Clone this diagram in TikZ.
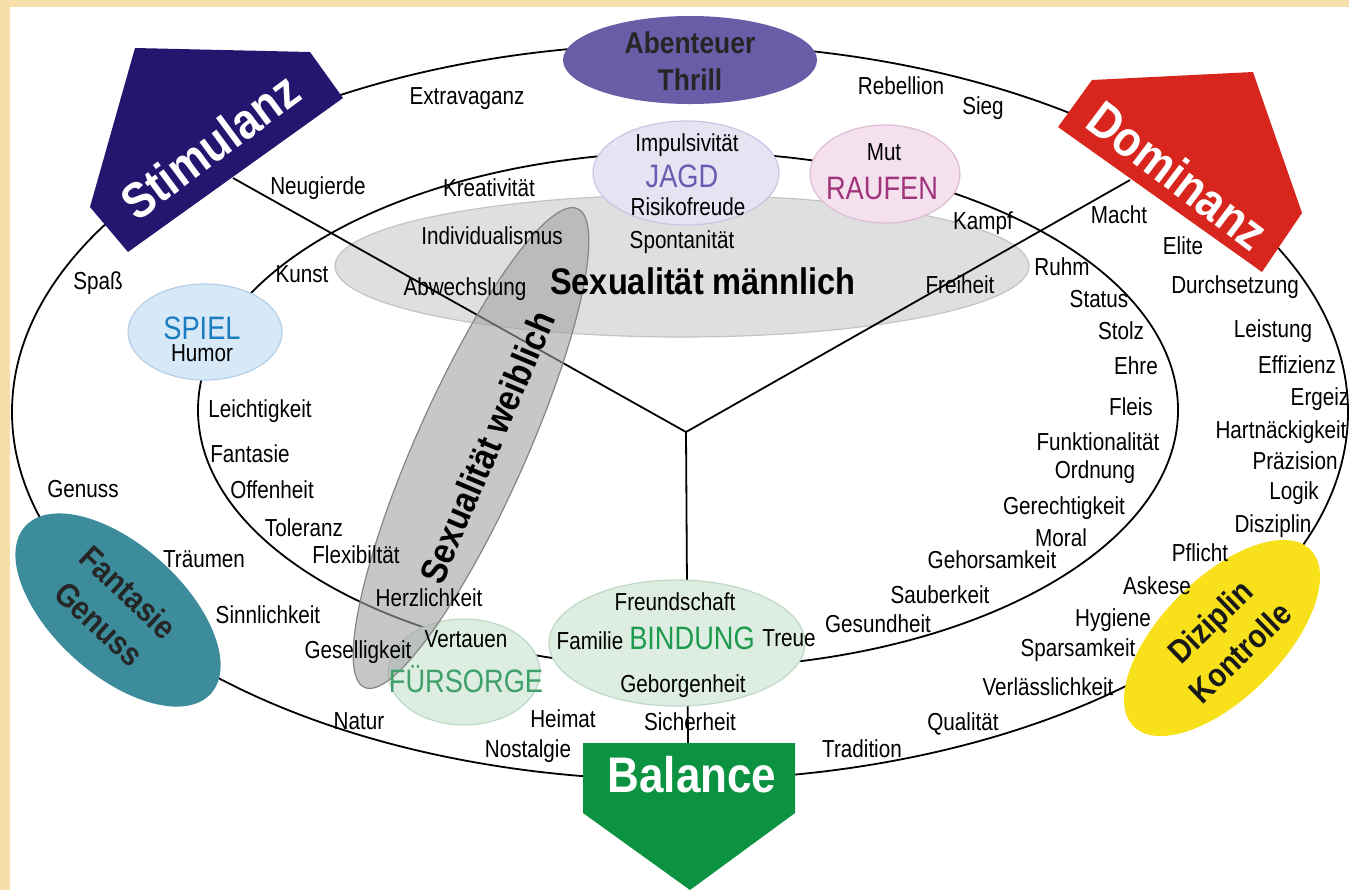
\documentclass[tikz,border=0pt]{standalone}
\usepackage{fontspec}
\setmainfont{Liberation Sans}[FakeStretch=0.84, BoldFeatures={FakeStretch=0.88}]
\usetikzlibrary{shapes.geometric}
\definecolor{beige}{HTML}{F6DFA8}
\definecolor{stimblue}{HTML}{24166E}
\definecolor{domred}{HTML}{D8261E}
\definecolor{balgreen}{HTML}{0B9342}
\definecolor{thrill}{HTML}{685EA8}
\definecolor{tealbg}{HTML}{3C8C9B}
\definecolor{yell}{HTML}{F8E11B}
\definecolor{jagdfill}{HTML}{E6E4F3}
\definecolor{jagddraw}{HTML}{C9C5E2}
\definecolor{jagdtext}{HTML}{6A5BB0}
\definecolor{rauffill}{HTML}{F5E1EE}
\definecolor{raufdraw}{HTML}{DDBDD2}
\definecolor{rauftext}{HTML}{A0347C}
\definecolor{spielfill}{HTML}{D7E8F6}
\definecolor{spieldraw}{HTML}{B5D0E8}
\definecolor{spieltext}{HTML}{1A7DC2}
\definecolor{bindfill}{HTML}{DDEDE1}
\definecolor{binddraw}{HTML}{BFD8C6}
\definecolor{bindtext}{HTML}{1E9A4D}
\definecolor{fuertext}{HTML}{3FA06A}
\definecolor{maennfill}{HTML}{DFDFDF}
\definecolor{maenndraw}{HTML}{C4C4C4}
\definecolor{weibfill}{HTML}{A3A3A3}
\definecolor{weibdraw}{HTML}{858585}

\begin{document}
\begin{tikzpicture}[x=0.5pt, y=-0.5pt,
    word/.style={font=\fontsize{12.3}{13}\selectfont, inner sep=0pt, text height=8.8pt, text depth=0pt},
    head/.style={font=\fontsize{16.2}{17}\selectfont, inner sep=0pt, text height=11.6pt, text depth=0pt},
    bubble/.style={ellipse, inner sep=0pt, line width=0.6pt},
    title/.style={font=\bfseries\fontsize{18.5}{19}\selectfont, inner sep=0pt},
    big/.style={font=\bfseries\fontsize{25}{26}\selectfont, inner sep=0pt, text=white},
    ring/.style={line width=0.9pt}]
  \useasboundingbox (0,0) rectangle (1349,890);
  \fill[beige] (0,0) rectangle (1349,890);
  \fill[white] (10,7) rectangle (1349,890);
  % grey field behind the middle
  \node[bubble, fill=maennfill, draw=maenndraw, minimum width=347pt, minimum height=71pt] (sm) at (682,266) {};
  % the two rings and the Y
  \draw[ring] (680,412) ellipse [x radius=668, y radius=368];
  \draw[ring] (688,410) ellipse [x radius=490, y radius=258];
  \coordinate (hub) at (686,432);
  \coordinate (ys) at (233,178);
  \coordinate (yd) at (1130,180);
  \coordinate (yb) at (688,745);
  \draw[ring] (ys) -- (hub) -- (yd);
  \draw[ring] (hub) -- (yb);
  % bubbles
  \node[bubble, fill=bindfill, draw=binddraw, minimum width=76pt, minimum height=53pt] (bfuer) at (464,672) {};
  \node[bubble, fill=weibfill, fill opacity=.6, draw=weibdraw, rotate=66, minimum width=262pt, minimum height=55pt] (sw) at (471,448) {};
  \node[bubble, fill=jagdfill, draw=jagddraw, minimum width=93pt, minimum height=52pt] (bjagd) at (686,173) {};
  \node[bubble, fill=rauffill, draw=raufdraw, minimum width=75pt, minimum height=49pt] (brauf) at (885,174) {};
  \node[bubble, fill=spielfill, draw=spieldraw, minimum width=77pt, minimum height=48pt] (bspiel) at (205,332) {};
  \node[bubble, fill=bindfill, draw=binddraw, minimum width=128pt, minimum height=63pt] (bbind) at (677,643) {};
  % the six poles
  \node[bubble, fill=thrill, minimum width=127pt, minimum height=44pt] (ab) at (690,60) {};
  \node[bubble, fill=tealbg, rotate=-42, minimum width=125pt, minimum height=65pt] (fg) at (118,610) {};
  \node[bubble, fill=yell, rotate=45, minimum width=125pt, minimum height=60pt] (dk) at (1222,638) {};
  \fill[stimblue] (135,48) -- (310,52) -- (343,98) -- (128,252) -- (90,207) -- cycle;
  \fill[domred] (1092,80) -- (1253,72) -- (1302,213) -- (1262,272) -- (1058,127) -- cycle;
  \fill[balgreen] (583,743) -- (795,743) -- (795,813) -- (690,890) -- (583,813) -- cycle;
  \node[big, rotate=36.5] (st) at (210,146) {Stimulanz};
  \node[big, rotate=-37] (do) at (1178,175) {Dominanz};
  \node[big] (ba) at (692,775) {Balance};
  \node[font=\bfseries\fontsize{15}{18.5}\selectfont, align=center, text=black!85, inner sep=0pt] (abt) at (690,61) {Abenteuer\\Thrill};
  \node[font=\bfseries\fontsize{16.5}{21.5}\selectfont, align=center, text=black!85, inner sep=0pt, rotate=-43] (fgt) at (114,608) {Fantasie\\Genuss};
  \node[font=\bfseries\fontsize{16.5}{21.5}\selectfont, align=center, text=black!90, inner sep=0pt, rotate=44] (dkt) at (1225,637) {Diziplin\\Kontrolle};
  \node[title] (smt) at (703,281) {Sexualität männlich};
  \node[title, rotate=67] (swt) at (487,447) {Sexualität weiblich};
  % words inside the bubbles
  \node[head, text=jagdtext] (jagd) at (682,176) {JAGD};
  \node[word] (imp) at (687,143) {Impulsivität};
  \node[word] (ris) at (688,207) {Risikofreude};
  \node[head, text=rauftext] (rauf) at (882,188) {RAUFEN};
  \node[word] (mut) at (884,152) {Mut};
  \node[head, text=spieltext] (spiel) at (202,328) {SPIEL};
  \node[word] (hum) at (202,353) {Humor};
  \node[head, text=bindtext] (bind) at (692,638) {BINDUNG};
  \node[word] (freu) at (675,602) {Freundschaft};
  \node[word] (fam) at (590,641) {Familie};
  \node[word] (treu) at (789,638) {Treue};
  \node[word] (gebo) at (683,684) {Geborgenheit};
  \node[head, text=fuertext] (fuer) at (466,681) {FÜRSORGE};
  \node[word] (vert) at (466,639) {Vertauen};
  % words on the rings
  \foreach \x/\y/\w [count=\n] in {467/96/Extravaganz, 901/86/Rebellion, 983/106/Sieg,
      318/186/Neugierde, 489/188/Kreativität, 98/281/Spaß, 302/274/Kunst,
      1119/215/Macht, 1183/246/Elite, 983/221/Kampf, 1062/267/Ruhm, 960/285/Freiheit,
      1235/285/Durchsetzung, 1099/299/Status, 1121/331/Stolz, 1136/366/Ehre, 1131/407/Fleis,
      1098/442/Funktionalität, 1095/470/Ordnung, 1064/506/Gerechtigkeit, 1061/538/Moral,
      992/560/Gehorsamkeit, 940/595/Sauberkeit, 878/624/Gesundheit,
      1273/329/Leistung, 1297/365/Effizienz, 1320/397/Ergeiz, 1281/430/Hartnäckigkeit,
      1295/461/Präzision, 1294/491/Logik, 1273/524/Disziplin, 1200/553/Pflicht,
      1157/586/Askese, 1113/618/Hygiene, 1078/648/Sparsamkeit, 1048/687/Verlässlichkeit,
      963/722/Qualität, 862/749/Tradition, 690/722/Sicherheit, 563/719/Heimat,
      528/749/Nostalgie, 359/721/Natur, 358/650/Geselligkeit, 268/615/Sinnlichkeit,
      204/559/Träumen, 83/489/Genuss, 492/236/Individualismus, 465/287/Abwechslung,
      682/240/Spontanität, 260/409/Leichtigkeit, 250/454/Fantasie, 272/490/Offenheit,
      304/528/Toleranz, 356/555/Flexibiltät, 429/598/Herzlichkeit} {
    \node[word] (w\n) at (\x,\y) {\w};
  }
\end{tikzpicture}
\end{document}
